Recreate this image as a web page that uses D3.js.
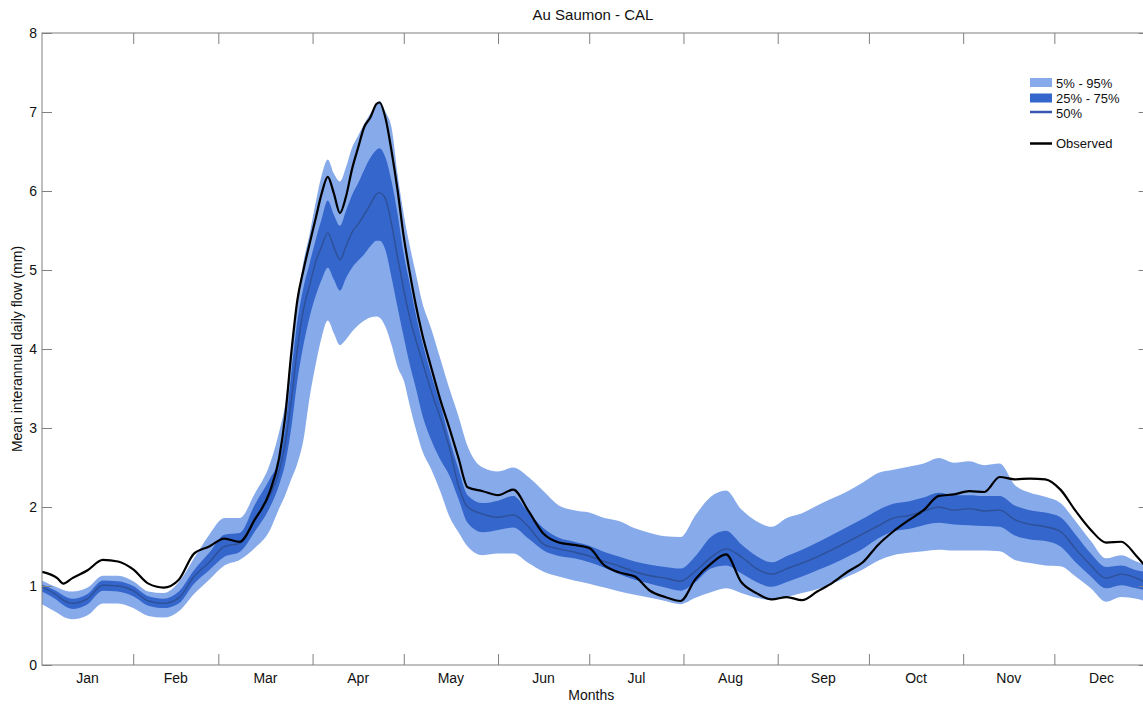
<!DOCTYPE html>
<html>
<head>
<meta charset="utf-8">
<script src="https://cdn.jsdelivr.net/npm/d3@7"></script>
<style>
  html, body { margin: 0; padding: 0; background: #fff; }
  svg { display: block; font-family: "Liberation Sans", Arial, sans-serif; }
</style>
</head>
<body>
<svg id="chart" width="1143" height="705"></svg>
<script>
// ---- data ----
const title = "Au Saumon - CAL";
const monthLabels = ["Jan","Feb","Mar","Apr","May","Jun","Jul","Aug","Sep","Oct","Nov","Dec"];
const monthEnds = [1,31,59,90,120,151,181,212,243,273,304,334,365];
const yTicks = [0,1,2,3,4,5,6,7,8];

const days = [1,6,8,11,16,21,26,31,36,41,46,51,56,61,66,71,76,
  79,81,83,85,87,89,91,93,95,97,99,101,103,105,107,109,111,
  112,114,116,118,120,122,124,126,
  129,132,135,138,141,
  146,151,156,161,166,171,176,181,186,191,196,201,206,211,216,221,226,231,236,241,246,251,256,261,266,271,276,281,286,291,296,301,306,311,316,321,326,331,336,341,346,351,356,361,365];

const observed = [1.18,1.1,1.03,1.1,1.2,1.33,1.31,1.21,1.03,0.98,1.08,1.41,1.5,1.6,1.56,1.84,2.2,
  2.62,3.15,3.95,4.62,5.0,5.33,5.65,5.97,6.18,5.97,5.72,5.93,6.28,6.55,6.81,6.93,7.1,
  7.12,6.92,6.5,6.0,5.42,4.96,4.55,4.2,
  3.77,3.36,3.0,2.62,2.25,
  2.2,2.15,2.22,1.95,1.66,1.55,1.52,1.48,1.26,1.17,1.12,0.94,0.86,0.81,1.09,1.28,1.4,1.05,0.91,0.83,0.86,0.82,0.93,1.04,1.18,1.3,1.52,1.69,1.83,1.96,2.14,2.16,2.2,2.19,2.38,2.35,2.36,2.35,2.22,1.95,1.71,1.55,1.56,1.38,1.2];

const p95 = [1.07,0.98,0.95,0.93,0.98,1.13,1.13,1.06,0.93,0.91,1.05,1.35,1.65,1.86,1.86,2.17,2.55,
  2.95,3.3,3.98,4.6,5.1,5.45,5.85,6.2,6.4,6.22,6.12,6.3,6.55,6.7,6.85,6.98,7.1,
  7.14,7.0,6.8,6.2,5.7,5.3,4.95,4.6,
  4.26,3.88,3.5,3.15,2.77,
  2.5,2.45,2.5,2.38,2.2,2.02,1.96,1.93,1.86,1.82,1.73,1.67,1.63,1.62,1.9,2.13,2.21,1.97,1.82,1.75,1.86,1.92,2.02,2.11,2.2,2.31,2.43,2.47,2.51,2.55,2.62,2.56,2.58,2.53,2.55,2.28,2.18,2.13,2.05,1.82,1.57,1.35,1.39,1.31,1.26];

const p75 = [1.02,0.93,0.88,0.84,0.9,1.07,1.06,1.0,0.87,0.84,0.93,1.2,1.42,1.65,1.67,2.03,2.36,
  2.6,3.0,3.7,4.35,4.78,5.08,5.38,5.65,5.88,5.7,5.56,5.75,5.95,6.1,6.27,6.42,6.52,
  6.54,6.42,6.12,5.7,5.2,4.82,4.43,4.1,
  3.68,3.3,2.87,2.48,2.15,
  2.05,2.08,2.14,1.93,1.73,1.61,1.56,1.51,1.43,1.37,1.31,1.27,1.24,1.22,1.38,1.62,1.7,1.53,1.38,1.3,1.38,1.46,1.55,1.65,1.75,1.85,1.96,2.04,2.07,2.12,2.18,2.15,2.15,2.14,2.14,2.02,1.96,1.93,1.87,1.65,1.41,1.24,1.26,1.2,1.17];

const p50 = [0.99,0.88,0.82,0.78,0.84,1.01,1.0,0.94,0.81,0.78,0.85,1.12,1.3,1.5,1.54,1.86,2.15,
  2.45,2.8,3.35,4.0,4.5,4.8,5.1,5.3,5.47,5.29,5.13,5.3,5.48,5.58,5.7,5.83,5.96,
  5.98,5.9,5.58,5.15,4.75,4.39,4.11,3.85,
  3.47,3.13,2.75,2.27,2.0,
  1.91,1.87,1.9,1.75,1.53,1.47,1.43,1.38,1.31,1.25,1.18,1.13,1.1,1.06,1.19,1.36,1.47,1.37,1.22,1.15,1.22,1.29,1.37,1.46,1.56,1.66,1.76,1.86,1.89,1.95,2.0,1.96,1.98,1.95,1.96,1.84,1.78,1.75,1.69,1.47,1.26,1.1,1.15,1.1,1.02];

const p25 = [0.93,0.82,0.76,0.71,0.77,0.94,0.93,0.87,0.75,0.72,0.78,1.03,1.2,1.37,1.43,1.69,2.0,
  2.28,2.55,3.0,3.6,4.05,4.4,4.67,4.88,5.03,4.88,4.74,4.9,5.03,5.12,5.2,5.3,5.37,
  5.37,5.25,4.9,4.52,4.15,3.8,3.5,3.18,
  2.85,2.6,2.4,2.1,1.8,
  1.68,1.71,1.74,1.6,1.45,1.38,1.35,1.3,1.23,1.15,1.08,1.03,0.98,0.94,1.05,1.22,1.26,1.16,1.05,0.99,1.05,1.12,1.2,1.28,1.37,1.47,1.6,1.69,1.72,1.77,1.8,1.78,1.77,1.76,1.75,1.64,1.59,1.57,1.5,1.3,1.12,0.97,1.01,0.97,0.94];

const p5 = [0.77,0.66,0.61,0.58,0.63,0.78,0.78,0.72,0.62,0.6,0.68,0.9,1.08,1.26,1.33,1.48,1.71,
  1.98,2.15,2.35,2.55,2.85,3.38,3.8,4.15,4.36,4.2,4.05,4.12,4.22,4.3,4.36,4.4,4.41,
  4.4,4.28,4.05,3.77,3.6,3.28,2.98,2.72,
  2.48,2.2,1.88,1.68,1.5,
  1.39,1.41,1.41,1.29,1.18,1.12,1.07,1.03,0.98,0.93,0.89,0.85,0.81,0.77,0.85,0.92,0.97,0.91,0.85,0.82,0.86,0.91,0.96,1.03,1.12,1.21,1.32,1.39,1.42,1.44,1.46,1.45,1.45,1.45,1.44,1.33,1.29,1.26,1.25,1.12,0.97,0.8,0.86,0.84,0.79];

const legendItems = ["5% - 95%","25% - 75%","50%","Observed"];

// ---- layout ----
const W = 1143, H = 705;
const plot = {left: 42, top: 33, right: 1148.6, bottom: 665};
const colLight = "#87aaea", colDark = "#3466cc", colMed = "#2e4c8c", axisCol = "#808080";

const svg = d3.select("#chart");
const x = d3.scaleLinear().domain([1, 365]).range([plot.left, plot.right]);
const y = d3.scaleLinear().domain([0, 8]).range([plot.bottom, plot.top]);

const rows = days.map((d, i) => ({d, obs: observed[i], p5: p5[i], p25: p25[i], p50: p50[i], p75: p75[i], p95: p95[i]}));

svg.append("defs").append("clipPath").attr("id", "clip")
  .append("rect").attr("x", plot.left).attr("y", plot.top)
  .attr("width", plot.right - plot.left).attr("height", plot.bottom - plot.top);

const g = svg.append("g").attr("clip-path", "url(#clip)");
const curve = d3.curveMonotoneX;

g.append("path").datum(rows).attr("fill", colLight)
  .attr("d", d3.area().x(r => x(r.d)).y0(r => y(r.p5)).y1(r => y(r.p95)).curve(curve));
g.append("path").datum(rows).attr("fill", colDark)
  .attr("d", d3.area().x(r => x(r.d)).y0(r => y(r.p25)).y1(r => y(r.p75)).curve(curve));
g.append("path").datum(rows).attr("fill", "none").attr("stroke", colMed).attr("stroke-width", 1.4).attr("stroke-opacity", 0.85)
  .attr("d", d3.line().x(r => x(r.d)).y(r => y(r.p50)).curve(curve));
g.append("path").datum(rows).attr("fill", "none").attr("stroke", "#000").attr("stroke-width", 2.2)
  .attr("stroke-linejoin", "round")
  .attr("d", d3.line().x(r => x(r.d)).y(r => y(r.obs)).curve(curve));

// ---- axes ----
const ax = svg.append("g");
ax.append("rect").attr("x", plot.left).attr("y", plot.top)
  .attr("width", plot.right - plot.left).attr("height", plot.bottom - plot.top)
  .attr("fill", "none").attr("stroke", axisCol).attr("stroke-width", 1);

const yAxisL = d3.axisLeft(y).tickValues(yTicks).tickSize(-10).tickPadding(5).tickFormat(d3.format("d"));
const gyl = svg.append("g").attr("transform", `translate(${plot.left},0)`).call(yAxisL);
const yAxisR = d3.axisRight(y).tickValues(yTicks).tickSize(-10).tickFormat("");
const gyr = svg.append("g").attr("transform", `translate(${plot.right},0)`).call(yAxisR);

const xAxisB = d3.axisBottom(x).tickValues(monthEnds.slice(1, -1)).tickSize(-11).tickFormat("");
const gxb = svg.append("g").attr("transform", `translate(0,${plot.bottom})`).call(xAxisB);
const xAxisT = d3.axisTop(x).tickValues(monthEnds.slice(1, -1)).tickSize(-11).tickFormat("");
const gxt = svg.append("g").attr("transform", `translate(0,${plot.top})`).call(xAxisT);

[gyl, gyr, gxb, gxt].forEach(s => {
  s.select(".domain").remove();
  s.selectAll(".tick line").attr("stroke", axisCol);
  s.selectAll("text").attr("fill", "#111").style("font-size", "14px").style("font-family", "Liberation Sans, Arial, sans-serif");
});

// month labels centred in months
svg.append("g").selectAll("text").data(monthLabels).join("text")
  .attr("x", (m, i) => x((monthEnds[i] + monthEnds[i + 1]) / 2))
  .attr("y", 683)
  .attr("text-anchor", "middle")
  .attr("font-size", 14).attr("fill", "#111")
  .text(m => m);

svg.append("text").attr("x", (plot.left + plot.right) / 2 - 4).attr("y", 700)
  .attr("text-anchor", "middle").attr("font-size", 14).attr("fill", "#111").text("Months");

svg.append("text").attr("transform", `translate(22,${(plot.top + plot.bottom) / 2}) rotate(-90)`)
  .attr("text-anchor", "middle").attr("font-size", 14).attr("fill", "#111")
  .text("Mean interannual daily flow (mm)");

svg.append("text").attr("x", 593).attr("y", 20)
  .attr("text-anchor", "middle").attr("font-size", 15).attr("fill", "#111").text(title);

// ---- legend ----
const lg = svg.append("g").attr("transform", "translate(1030,0)");
lg.append("rect").attr("x", 0).attr("y", 78).attr("width", 22).attr("height", 9).attr("fill", colLight);
lg.append("rect").attr("x", 0).attr("y", 93.5).attr("width", 22).attr("height", 9).attr("fill", colDark);
lg.append("line").attr("x1", 0).attr("x2", 22).attr("y1", 112).attr("y2", 112).attr("stroke", "#3557b0").attr("stroke-width", 2.5);
lg.append("line").attr("x1", 0).attr("x2", 22).attr("y1", 143.5).attr("y2", 143.5).attr("stroke", "#000").attr("stroke-width", 2.5);
const ly = [83, 98.5, 113.5, 143.5];
lg.selectAll("text.leg").data(legendItems).join("text").attr("class", "leg")
  .attr("x", 26).attr("y", (t, i) => ly[i]).attr("dy", "0.35em")
  .attr("font-size", 13).attr("fill", "#111").text(t => t);
</script>
</body>
</html>
